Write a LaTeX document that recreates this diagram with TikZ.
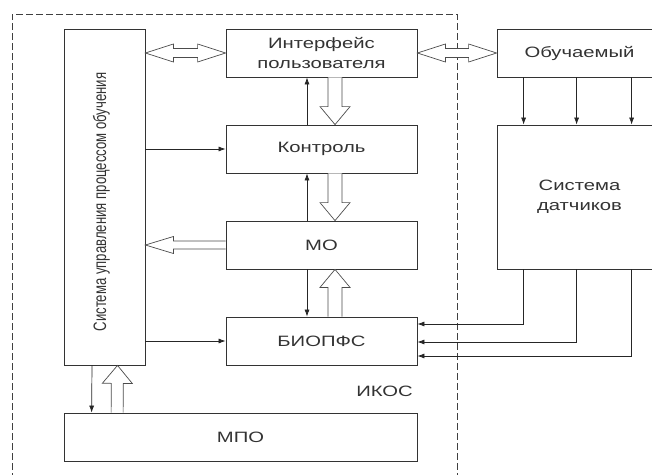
\documentclass[tikz,border=0pt]{standalone}
\usepackage{fontspec}
\setmainfont{Liberation Sans}
\usetikzlibrary{calc}
\usetikzlibrary{arrows.meta}
\usetikzlibrary{positioning}
\tikzstyle{bloc}   =[draw=black!80, line width=0.8pt, inner sep=0pt, text=black!80, align=center, font=\fontsize{15}{20}\selectfont]
\tikzstyle{fil}    =[draw=black!85, line width=0.7pt, -{Latex[length=7pt,width=5pt]}]
\tikzstyle{creuse} =[draw=black!70, line width=0.7pt, fill=white, line join=miter]

% texte élargi comme sur la figure
\newcommand\etire[1]{\scalebox{1.35}[1]{#1}}

% flèche creuse : #1 départ, #2 pointe, #3 demi-largeur du corps, #4 demi-largeur de la tête, #5 longueur de la tête
\newcommand\creuse[5]{%
  \path ($(#2)!#5pt!(#1)$) coordinate (bs);
  \draw[creuse] ($(#1)!#3pt!90:(#2)$) -- ($(bs)!#3pt!90:(#2)$) -- ($(bs)!#4pt!90:(#2)$) -- (#2)
    -- ($(bs)!#4pt!-90:(#2)$) -- ($(bs)!#3pt!-90:(#2)$) -- ($(#1)!#3pt!-90:(#2)$);}

% flèche creuse à deux pointes entre #1 et #2
\newcommand\creusedouble[2]{%
  \path ($(#1)!28pt!(#2)$) coordinate (b1) ($(#2)!28pt!(#1)$) coordinate (b2);
  \draw[creuse] (#1) -- ($(b1)!9pt!90:(#2)$) -- ($(b1)!4.5pt!90:(#2)$) -- ($(b2)!4.5pt!-90:(#1)$)
    -- ($(b2)!9pt!-90:(#1)$) -- (#2) -- ($(b2)!9pt!90:(#1)$) -- ($(b2)!4.5pt!90:(#1)$)
    -- ($(b1)!4.5pt!-90:(#2)$) -- ($(b1)!9pt!-90:(#2)$) -- cycle;}

\begin{document}
\begin{tikzpicture}[x=1pt,y=-1pt]
\clip (0,0) rectangle (652,474);

%le cadre IKOS
\draw[black!75, line width=0.7pt, dash pattern=on 7pt off 3pt] (12,480) -- (12,14) -- (457,14) -- (457,480);
\node[text=black!80, font=\fontsize{15}{16}\selectfont] (ikos) at (384.5,391.5) {\etire{ИКОС}};

%les blocs
\node[bloc, minimum width=81, minimum height=336] (sup) at (104.5,197) {};
\node[text=black!80, font=\fontsize{18}{20}\selectfont, rotate=90] (suptxt) at (101.5,202) {\scalebox{0.73}[1]{Система управления процессом обучения}};
\node[bloc, minimum width=191, minimum height=48] (intf) at (321.5,53) {\etire{Интерфейс}\\\etire{пользователя}};
\node[bloc, minimum width=191, minimum height=48] (kontr) at (321.5,149) {\etire{Контроль}};
\node[bloc, minimum width=191, minimum height=48] (mo) at (321.5,245) {\etire{МО}};
\node[bloc, minimum width=191, minimum height=48] (biop) at (321.5,341) {\etire{БИОПФС}};
\node[bloc, minimum width=353, minimum height=48] (mpo) at (240.5,437) {\etire{МПО}};
\node[bloc, minimum width=165, minimum height=48] (obuch) at (579.5,53) {\etire{Обучаемый}};
\node[bloc, minimum width=165, minimum height=144] (sens) at (579.5,197) {\etire{Система}\\\etire{датчиков}};

%flèches simples
\draw[fil] (sup.east |- kontr.west) -- (kontr.west);
\draw[fil] (sup.east |- biop.west) -- (biop.west);
\draw[fil] ($(kontr.north)+(-14.5,0)$) -- ($(intf.south)+(-14.5,0)$);
\draw[fil] ($(mo.north)+(-14.5,0)$) -- ($(kontr.south)+(-14.5,0)$);
\draw[fil] ($(mo.south)+(-14.5,0)$) -- ($(biop.north)+(-14.5,0)$);
\draw[fil] ($(sup.south)+(-12.5,0)$) -- ($(mpo.north west)+(28,0)$);
\foreach \dx in {27,80,135}
  \draw[fil] ($(obuch.south west)+(\dx,0)$) -- ($(sens.north west)+(\dx,0)$);
\foreach \dx/\dy in {27/-17,80/1,135/15}
  \draw[fil] ($(sens.south west)+(\dx,0)$) |- ($(biop.east)+(0,\dy)$);

%flèches creuses
\creusedouble{sup.east |- intf.west}{intf.west}
\creusedouble{intf.east}{obuch.west}
\creuse{mo.west}{sup.east |- mo.west}{4}{8.5}{28}
\creuse{$(intf.south)+(13.5,0)$}{$(kontr.north)+(13.5,0)$}{7}{15}{18}
\creuse{$(kontr.south)+(13.5,0)$}{$(mo.north)+(13.5,0)$}{7}{15}{18}
\creuse{$(biop.north)+(13.5,0)$}{$(mo.south)+(13.5,0)$}{7}{15}{18}
\creuse{$(mpo.north west)+(53.5,0)$}{$(sup.south)+(13,0)$}{6}{15}{18}

\end{tikzpicture}
\end{document}
